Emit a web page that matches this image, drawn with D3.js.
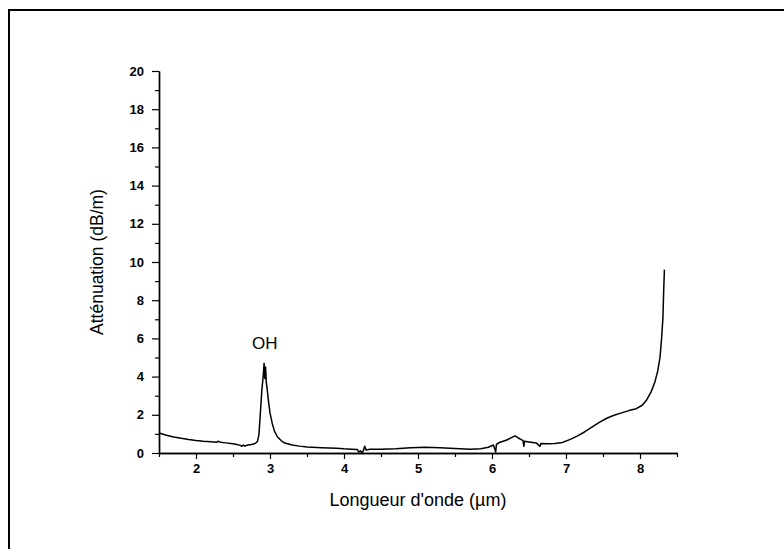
<!DOCTYPE html>
<html>
<head>
<meta charset="utf-8">
<script src="https://cdn.jsdelivr.net/npm/d3@7"></script>
<style>
  html, body { margin: 0; padding: 0; background: #fff; }
  svg { display: block; }
</style>
</head>
<body>
<svg id="chart" width="784" height="549"></svg>
<script>
// Attenuation spectrum of the fibre: wavelength (µm) vs loss (dB/m)
const wavelength = [
  1.50, 1.60, 1.70, 1.80, 1.90, 2.00, 2.10, 2.20, 2.28, 2.30, 2.33, 2.40, 2.50, 2.55, 2.60, 2.62, 2.64, 2.66, 2.70, 2.75,
  2.80, 2.83, 2.85, 2.87, 2.89, 2.91, 2.92, 2.93, 2.94, 2.95, 2.96, 2.98, 3.00, 3.03, 3.06, 3.10, 3.15, 3.20, 3.30, 3.40,
  3.50, 3.70, 3.90, 4.00, 4.10, 4.18, 4.20, 4.22, 4.24, 4.26, 4.28, 4.30, 4.35, 4.50, 4.70, 4.90, 5.10, 5.30, 5.50, 5.70,
  5.85, 5.95, 6.02, 6.05, 6.06, 6.10, 6.20, 6.31, 6.35, 6.42, 6.43, 6.44, 6.50, 6.60, 6.65, 6.66, 6.75, 6.85, 6.95, 7.05,
  7.15, 7.25, 7.35, 7.45, 7.55, 7.65, 7.75, 7.85, 7.95, 8.03, 8.09, 8.15, 8.20, 8.24, 8.27, 8.29, 8.31, 8.32, 8.33
];
const attenuation = [
  1.05, 0.93, 0.84, 0.77, 0.71, 0.66, 0.62, 0.59, 0.56, 0.62, 0.56, 0.53, 0.48, 0.44, 0.40, 0.35, 0.42, 0.36, 0.42, 0.45,
  0.50, 0.60, 0.95, 2.10, 3.30, 4.10, 4.70, 3.90, 4.50, 3.70, 3.40, 2.70, 2.10, 1.55, 1.15, 0.85, 0.65, 0.52, 0.42, 0.36,
  0.32, 0.28, 0.25, 0.22, 0.20, 0.18, 0.05, 0.12, 0.02, 0.10, 0.35, 0.15, 0.20, 0.20, 0.22, 0.28, 0.30, 0.28, 0.24, 0.20,
  0.22, 0.30, 0.42, 0.05, 0.45, 0.55, 0.68, 0.90, 0.80, 0.65, 0.35, 0.62, 0.58, 0.52, 0.35, 0.50, 0.48, 0.50, 0.55, 0.70,
  0.88, 1.10, 1.35, 1.60, 1.82, 1.98, 2.10, 2.22, 2.32, 2.50, 2.78, 3.20, 3.70, 4.30, 5.00, 5.90, 7.10, 8.50, 9.60
];

const xMajorTicks = [2, 3, 4, 5, 6, 7, 8];
const xMinorTicks = [1.5, 2.5, 3.5, 4.5, 5.5, 6.5, 7.5, 8.5];
const yMajorTicks = [0, 2, 4, 6, 8, 10, 12, 14, 16, 18, 20];
const yMinorTicks = [1, 3, 5, 7, 9, 11, 13, 15, 17, 19];

const xTitle = "Longueur d'onde (µm)";
const yTitle = "Atténuation (dB/m)";
const peakLabel = { text: "OH", x: 2.93, y: 5.45 };

const svg = d3.select("#chart");

// outer frame
svg.append("rect")
  .attr("x", 9).attr("y", 10)
  .attr("width", 800).attr("height", 600)
  .attr("fill", "none").attr("stroke", "#000").attr("stroke-width", 2);

const x = d3.scaleLinear().domain([1.5, 8.5]).range([159, 677]);
const y = d3.scaleLinear().domain([0, 20]).range([453, 71]);

const tickFont = "'Liberation Sans', Arial, sans-serif";

function styleAxis(g) {
  g.select(".domain").attr("stroke", "#000").attr("stroke-width", 1.4);
  g.selectAll(".tick line").attr("stroke", "#000").attr("stroke-width", 1.2);
  g.selectAll(".tick text")
    .attr("fill", "#000")
    .style("font-family", tickFont)
    .style("font-weight", "bold")
    .style("font-size", "13px");
}

// x axis: minor ticks then labelled major ticks
svg.append("g")
  .attr("transform", `translate(0,${y(0)})`)
  .call(d3.axisBottom(x).tickValues(xMinorTicks).tickSize(4).tickFormat("").tickSizeOuter(0))
  .call(styleAxis);
svg.append("g")
  .attr("transform", `translate(0,${y(0)})`)
  .call(d3.axisBottom(x).tickValues(xMajorTicks).tickSize(6).tickPadding(5).tickFormat(d3.format("d")).tickSizeOuter(0))
  .call(styleAxis);

// y axis
svg.append("g")
  .attr("transform", `translate(${x(1.5)},0)`)
  .call(d3.axisLeft(y).tickValues(yMinorTicks).tickSize(4).tickFormat("").tickSizeOuter(0))
  .call(styleAxis);
svg.append("g")
  .attr("transform", `translate(${x(1.5)},0)`)
  .call(d3.axisLeft(y).tickValues(yMajorTicks).tickSize(7).tickPadding(8).tickFormat(d3.format("d")).tickSizeOuter(0))
  .call(styleAxis);

// spectrum line
const points = wavelength.map((w, i) => [w, attenuation[i]]);
svg.append("path")
  .datum(points)
  .attr("fill", "none")
  .attr("stroke", "#000")
  .attr("stroke-width", 1.5)
  .attr("stroke-linejoin", "round")
  .attr("d", d3.line().x(d => x(d[0])).y(d => y(d[1])));

// axis titles
svg.append("text")
  .attr("x", (x(1.5) + x(8.5)) / 2)
  .attr("y", 506)
  .attr("text-anchor", "middle")
  .style("font-family", tickFont)
  .style("font-size", "18px")
  .text(xTitle);

svg.append("text")
  .attr("transform", `translate(103,${(y(0) + y(20)) / 2}) rotate(-90)`)
  .attr("text-anchor", "middle")
  .style("font-family", tickFont)
  .style("font-size", "17.5px")
  .text(yTitle);

// absorption band label
svg.append("text")
  .attr("x", x(peakLabel.x))
  .attr("y", y(peakLabel.y))
  .attr("text-anchor", "middle")
  .style("font-family", tickFont)
  .style("font-size", "17px")
  .text(peakLabel.text);
</script>
</body>
</html>
